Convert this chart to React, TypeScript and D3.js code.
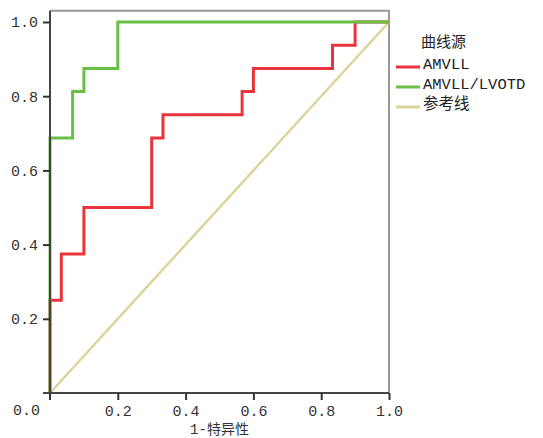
import React, { useEffect, useRef } from 'react';
import * as d3 from 'd3';

const svgWidth = 543;
const svgHeight = 438;
const margin = { top: 22, right: 154, bottom: 45, left: 50 };
const chartWidth = svgWidth - margin.left - margin.right;
const chartHeight = svgHeight - margin.top - margin.bottom;

// ROC curve points (1-specificity, sensitivity)
const amvllX = [0, 0, 0.0333, 0.0333, 0.1, 0.1, 0.3, 0.3, 0.3333, 0.3333, 0.5667, 0.5667, 0.6, 0.6, 0.8333, 0.8333, 0.9, 0.9, 1];
const amvllY = [0, 0.25, 0.25, 0.375, 0.375, 0.5, 0.5, 0.6875, 0.6875, 0.75, 0.75, 0.8125, 0.8125, 0.875, 0.875, 0.9375, 0.9375, 1, 1];
const ratioX = [0, 0, 0.0667, 0.0667, 0.1, 0.1, 0.2, 0.2, 1];
const ratioY = [0, 0.6875, 0.6875, 0.8125, 0.8125, 0.875, 0.875, 1, 1];
const refX = [0, 1];
const refY = [0, 1];

const seriesNames = ['AMVLL', 'AMVLL/LVOTD', '参考线'];
const seriesColors = ['#e8343c', '#6abf47', '#ddd39b'];
const legendTitle = '曲线源';
const xTicks = [0.2, 0.4, 0.6, 0.8, 1.0];
const yTicks = [0.2, 0.4, 0.6, 0.8, 1.0];
const xTitle = '1-特异性';

const font = '"Liberation Mono", "Noto Sans CJK SC", monospace';

const RocChart = () => {
  const ref = useRef<SVGSVGElement>(null);

  useEffect(() => {
    if (!ref.current) return;
    const svg = d3.select(ref.current);
    svg.selectAll('*').remove();

    const x = d3.scaleLinear().domain([0, 1]).range([0, chartWidth]);
    const y = d3.scaleLinear().domain([0, 1]).range([chartHeight, 0]);

    const g = svg.append('g').attr('transform', `translate(${margin.left},${margin.top})`);

    // frame (top and right)
    g.append('path')
      .attr('d', `M0,${y(1.03)}H${x(1)}V${y(0)}`)
      .attr('fill', 'none')
      .attr('stroke', '#9a9a9a')
      .attr('stroke-width', 2);

    const line = d3.line<[number, number]>().x(d => x(d[0])).y(d => y(d[1]));
    const series = [
      { xs: refX, ys: refY, w: 2.5 },
      { xs: amvllX, ys: amvllY, w: 3 },
      { xs: ratioX, ys: ratioY, w: 3 },
    ];
    const colorOrder = [2, 0, 1];
    series.forEach((s, i) => {
      const pts = s.xs.map((v, j) => [v, s.ys[j]] as [number, number]);
      g.append('path')
        .attr('d', line(pts))
        .attr('fill', 'none')
        .attr('stroke', seriesColors[colorOrder[i]])
        .attr('stroke-width', s.w);
    });

    // axes
    const xAxis = g.append('g').attr('transform', `translate(0,${chartHeight})`)
      .call(d3.axisBottom(x).tickValues(xTicks).tickFormat(d3.format('.1f')).tickSize(7).tickPadding(5));
    xAxis.select('.domain').attr('d', `M-7,0H${x(1)}`).attr('stroke', '#444').attr('stroke-width', 2);
    const yAxis = g.append('g')
      .call(d3.axisLeft(y).tickValues(yTicks).tickFormat(d3.format('.1f')).tickSize(7).tickPadding(5));
    yAxis.select('.domain').attr('d', `M0,${y(1.03)}V${chartHeight}`).attr('stroke', '#444').attr('stroke-width', 2);
    [xAxis, yAxis].forEach(a => {
      a.selectAll('.tick line').attr('stroke', '#333').attr('stroke-width', 2);
      a.selectAll('.tick text').attr('font-family', font).attr('font-size', 15).attr('fill', '#333');
    });
    xAxis.append('line').attr('x1', 0).attr('x2', 0).attr('y1', 0).attr('y2', 7).attr('stroke', '#333').attr('stroke-width', 2);
    g.append('text')
      .attr('x', -10).attr('y', chartHeight + 22)
      .attr('text-anchor', 'end')
      .attr('font-family', font).attr('font-size', 15).attr('fill', '#333')
      .text(d3.format('.1f')(0));

    g.append('text')
      .attr('x', x(0.5)).attr('y', chartHeight + 41)
      .attr('text-anchor', 'middle')
      .attr('font-family', font).attr('font-size', 14).attr('fill', '#333')
      .text(xTitle);

    // legend
    const lg = svg.append('g').attr('transform', 'translate(396,0)');
    lg.append('text').attr('x', 25).attr('y', 47)
      .attr('font-family', font).attr('font-size', 15).attr('fill', '#222').text(legendTitle);
    seriesNames.forEach((name, i) => {
      const yy = 67 + i * 20;
      lg.append('line').attr('x1', 0).attr('x2', 24).attr('y1', yy).attr('y2', yy)
        .attr('stroke', seriesColors[i]).attr('stroke-width', 3);
      lg.append('text').attr('x', 27).attr('y', yy + 2)
        .attr('font-family', font).attr('font-size', 15.5).attr('fill', '#222').text(name);
    });
  }, []);

  return <svg ref={ref} width={svgWidth} height={svgHeight} style={{ background: '#fff' }} />;
};

export default function App() {
  return (
    <div style={{ position: 'fixed', left: 0, top: 0 }}>
      <RocChart />
    </div>
  );
}
